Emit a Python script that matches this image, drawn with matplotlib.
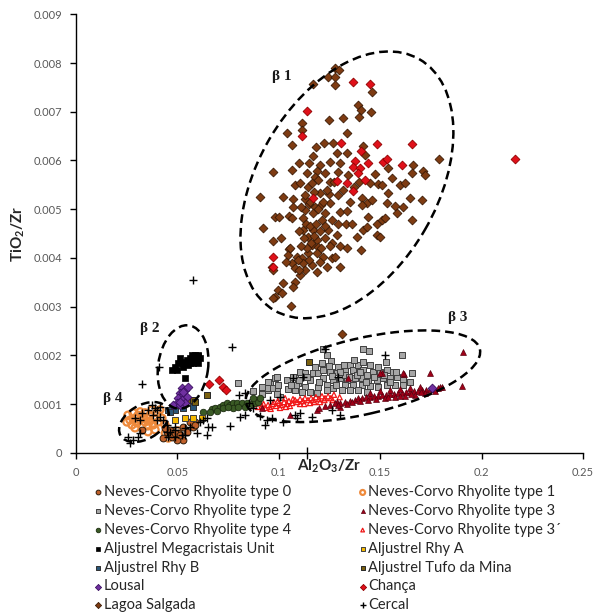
import matplotlib
matplotlib.use("Agg")
import matplotlib.pyplot as plt
from matplotlib.patches import Ellipse
from matplotlib import transforms
from matplotlib.ticker import FormatStrFormatter

plt.rcParams['font.family'] = ['Lato', 'DejaVu Sans']
plt.rcParams['mathtext.default'] = 'regular'

# ---- data ----
lagoa_x = [0.1277, 0.1297, 0.1243, 0.1277, 0.1277, 0.1169, 0.1460, 0.1391, 0.1405, 0.1455,
           0.1395, 0.1248, 0.1317, 0.1114, 0.1114, 0.1040, 0.1336, 0.1065, 0.1183, 0.1223,
           0.1267, 0.1336, 0.1415, 0.1169, 0.1287, 0.1425, 0.1100, 0.1149, 0.1252, 0.1302,
           0.1203, 0.0971, 0.1065, 0.1139, 0.1188, 0.1228, 0.1292, 0.1179, 0.1193, 0.1252,
           0.1474, 0.1538, 0.1657, 0.1662, 0.1711, 0.1721, 0.1790, 0.1598, 0.1622, 0.1450,
           0.1489, 0.1509, 0.1558, 0.1080, 0.1105, 0.1144, 0.1164, 0.1203, 0.1248, 0.1292,
           0.0907, 0.1021, 0.1070, 0.1129, 0.1149, 0.1179, 0.1208, 0.1252, 0.1351, 0.1410,
           0.1435, 0.1460, 0.1534, 0.1538, 0.1573, 0.1612, 0.1647, 0.1706, 0.1070, 0.1129,
           0.1169, 0.1228, 0.1302, 0.1336, 0.1410, 0.0981, 0.1001, 0.1050, 0.1065, 0.1119,
           0.1213, 0.1262, 0.1292, 0.1440, 0.1484, 0.1509, 0.1524, 0.1583, 0.1657, 0.0922,
           0.1119, 0.1169, 0.1243, 0.1287, 0.1415, 0.1435, 0.1484, 0.1499, 0.0971, 0.1011,
           0.1144, 0.1188, 0.1228, 0.1386, 0.1164, 0.1193, 0.1262, 0.1302, 0.1144, 0.1188,
           0.1218, 0.1336, 0.1405, 0.1050, 0.1045, 0.1090, 0.1114, 0.1065, 0.1119, 0.1164,
           0.1203, 0.1262, 0.1277, 0.1036, 0.0966, 0.0971, 0.1080, 0.1129, 0.1188, 0.1238,
           0.1302, 0.1105, 0.1080, 0.1070, 0.1021, 0.0996, 0.1016, 0.0981, 0.0971, 0.1060,
           0.1312, 0.1055,
           0.1130, 0.1155, 0.1175, 0.1110, 0.1135, 0.1155, 0.1185, 0.1100, 0.1125, 0.1160,
           0.1175, 0.1140, 0.1110, 0.1205, 0.1230, 0.1195, 0.1220, 0.1240, 0.1270, 0.1315,
           0.1340, 0.1370, 0.1395, 0.1095, 0.1150, 0.1100, 0.1210, 0.1255, 0.1330, 0.1360]
lagoa_y = [0.00790, 0.00786, 0.00771, 0.00771, 0.00755, 0.00757, 0.00741, 0.00714, 0.00704, 0.00700,
           0.00689, 0.00683, 0.00687, 0.00677, 0.00663, 0.00656, 0.00656, 0.00632, 0.00628, 0.00636,
           0.00636, 0.00615, 0.00630, 0.00609, 0.00615, 0.00611, 0.00595, 0.00595, 0.00597, 0.00595,
           0.00591, 0.00576, 0.00580, 0.00574, 0.00578, 0.00574, 0.00576, 0.00566, 0.00560, 0.00556,
           0.00572, 0.00584, 0.00574, 0.00591, 0.00578, 0.00570, 0.00603, 0.00549, 0.00554, 0.00554,
           0.00552, 0.00549, 0.00564, 0.00549, 0.00554, 0.00545, 0.00554, 0.00533, 0.00531, 0.00529,
           0.00525, 0.00525, 0.00521, 0.00521, 0.00510, 0.00504, 0.00509, 0.00512, 0.00515, 0.00523,
           0.00512, 0.00519, 0.00512, 0.00533, 0.00506, 0.00504, 0.00523, 0.00519, 0.00504, 0.00498,
           0.00492, 0.00492, 0.00494, 0.00496, 0.00509, 0.00484, 0.00484, 0.00486, 0.00482, 0.00482,
           0.00478, 0.00478, 0.00470, 0.00484, 0.00470, 0.00478, 0.00482, 0.00492, 0.00478, 0.00461,
           0.00457, 0.00457, 0.00457, 0.00447, 0.00457, 0.00463, 0.00447, 0.00443, 0.00435, 0.00441,
           0.00443, 0.00437, 0.00441, 0.00443, 0.00426, 0.00422, 0.00430, 0.00424, 0.00410, 0.00410,
           0.00402, 0.00420, 0.00416, 0.00418, 0.00406, 0.00402, 0.00400, 0.00389, 0.00389, 0.00385,
           0.00391, 0.00400, 0.00402, 0.00391, 0.00381, 0.00375, 0.00379, 0.00375, 0.00371, 0.00381,
           0.00381, 0.00365, 0.00350, 0.00340, 0.00348, 0.00334, 0.00328, 0.00320, 0.00318, 0.00301,
           0.00244, 0.00420,
           0.00530, 0.00515, 0.00535, 0.00505, 0.00470, 0.00465, 0.00470, 0.00455, 0.00440, 0.00430,
           0.00445, 0.00420, 0.00425, 0.00455, 0.00465, 0.00500, 0.00515, 0.00540, 0.00555, 0.00540,
           0.00570, 0.00545, 0.00555, 0.00395, 0.00395, 0.00375, 0.00420, 0.00425, 0.00470, 0.00470]

chanca_x = [0.1366, 0.1450, 0.1139, 0.1114, 0.1307, 0.1484, 0.1657, 0.1405, 0.1376, 0.1440,
            0.1514, 0.1534, 0.1607, 0.1366, 0.1400, 0.1391, 0.1425, 0.1336, 0.1287, 0.1366,
            0.0971, 0.0971, 0.1169, 0.2165, 0.0656, 0.0705, 0.0725, 0.0740]
chanca_y = [0.00761, 0.00757, 0.00702, 0.00650, 0.00636, 0.00634, 0.00634, 0.00620, 0.00599, 0.00595,
            0.00597, 0.00603, 0.00591, 0.00587, 0.00584, 0.00574, 0.00560, 0.00554, 0.00558, 0.00537,
            0.00402, 0.00381, 0.00523, 0.00603, 0.00141, 0.00149, 0.00135, 0.00129]

type2_x = [0.0799, 0.0917, 0.0878, 0.0947, 0.0957, 0.0981, 0.0991, 0.1006, 0.1050, 0.1080,
           0.1105, 0.1129, 0.1095, 0.1129, 0.1154, 0.1169, 0.1218, 0.1238, 0.1213, 0.1257,
           0.1193, 0.1218, 0.1193, 0.1238, 0.1252, 0.1287, 0.1326, 0.1351, 0.1366, 0.1391,
           0.1415, 0.1450, 0.1415, 0.1464, 0.1267, 0.1302, 0.1336, 0.1376, 0.1410, 0.1440,
           0.1484, 0.1514, 0.1548, 0.1583, 0.1612, 0.1647, 0.1657, 0.1563, 0.1534, 0.1499,
           0.1415, 0.1445, 0.1529, 0.1607, 0.1326, 0.1366, 0.1410, 0.1450, 0.1489, 0.1534,
           0.1573, 0.1612, 0.1267, 0.1238, 0.1312, 0.1351, 0.1391, 0.1435, 0.1080, 0.1114,
           0.1154, 0.1188, 0.1045, 0.1386, 0.1435, 0.1292, 0.1326, 0.0947, 0.0991, 0.0966,
           0.0991, 0.0873, 0.0917, 0.1040, 0.1070, 0.1085, 0.0996, 0.0942, 0.0917,
           0.1180, 0.1220, 0.1260, 0.1320, 0.1345, 0.1370, 0.1400, 0.1430, 0.1470, 0.1490,
           0.1520, 0.1550, 0.1580, 0.1140, 0.1100, 0.1060, 0.1280, 0.1300, 0.1200, 0.1250]
type2_y = [0.00143, 0.00123, 0.00108, 0.00129, 0.00145, 0.00153, 0.00133, 0.00114, 0.00149, 0.00155,
           0.00166, 0.00164, 0.00143, 0.00135, 0.00149, 0.00164, 0.00213, 0.00201, 0.00184, 0.00188,
           0.00164, 0.00153, 0.00135, 0.00139, 0.00166, 0.00166, 0.00170, 0.00180, 0.00170, 0.00180,
           0.00186, 0.00180, 0.00170, 0.00166, 0.00149, 0.00153, 0.00149, 0.00153, 0.00153, 0.00149,
           0.00149, 0.00153, 0.00153, 0.00155, 0.00149, 0.00145, 0.00164, 0.00166, 0.00170, 0.00166,
           0.00213, 0.00209, 0.00186, 0.00201, 0.00139, 0.00139, 0.00139, 0.00137, 0.00135, 0.00139,
           0.00139, 0.00139, 0.00133, 0.00129, 0.00129, 0.00129, 0.00129, 0.00125, 0.00129, 0.00125,
           0.00125, 0.00123, 0.00131, 0.00160, 0.00160, 0.00176, 0.00160, 0.00145, 0.00155, 0.00133,
           0.00121, 0.00127, 0.00121, 0.00149, 0.00155, 0.00139, 0.00139, 0.00133, 0.00135,
           0.00175, 0.00170, 0.00158, 0.00180, 0.00155, 0.00190, 0.00165, 0.00145, 0.00155, 0.00175,
           0.00160, 0.00145, 0.00165, 0.00155, 0.00150, 0.00140, 0.00140, 0.00165, 0.00145, 0.00178]

type3_x = [0.1908, 0.1903, 0.1746, 0.1617, 0.1509, 0.1341, 0.1287, 0.1188, 0.1055, 0.0917,
           0.1795, 0.1302, 0.1252, 0.1277, 0.1302, 0.1326, 0.1351, 0.1376, 0.1391, 0.1410,
           0.1430, 0.1450, 0.1469, 0.1489, 0.1509, 0.1529, 0.1548, 0.1568, 0.1588, 0.1607,
           0.1627, 0.1647, 0.1667, 0.1686, 0.1706, 0.1726, 0.1746, 0.1765, 0.1785, 0.1805,
           0.1450, 0.1499, 0.1548, 0.1598, 0.1647, 0.1696, 0.1524, 0.1573, 0.1622, 0.1672,
           0.1721, 0.1770, 0.1612, 0.1499, 0.1290, 0.1335, 0.1360, 0.1400, 0.1440, 0.1480,
           0.1540, 0.1600, 0.1650, 0.1700, 0.1200, 0.1230]
type3_y = [0.00207, 0.00137, 0.00164, 0.00162, 0.00164, 0.00153, 0.00104, 0.00088, 0.00077, 0.00092,
           0.00135, 0.00094, 0.00098, 0.00102, 0.00102, 0.00104, 0.00106, 0.00108, 0.00112, 0.00112,
           0.00114, 0.00114, 0.00116, 0.00116, 0.00119, 0.00119, 0.00121, 0.00121, 0.00123, 0.00123,
           0.00125, 0.00125, 0.00127, 0.00127, 0.00129, 0.00129, 0.00131, 0.00131, 0.00133, 0.00135,
           0.00123, 0.00127, 0.00129, 0.00131, 0.00133, 0.00135, 0.00112, 0.00114, 0.00116, 0.00119,
           0.00123, 0.00127, 0.00164, 0.00164, 0.00098, 0.00100, 0.00104, 0.00106, 0.00108, 0.00110,
           0.00114, 0.00117, 0.00120, 0.00124, 0.00092, 0.00095]

type3b_x = [0.0897, 0.0917, 0.0932, 0.0947, 0.0957, 0.0971, 0.0986, 0.1001, 0.1011, 0.1026,
            0.1040, 0.1050, 0.1065, 0.1080, 0.1090, 0.1105, 0.1119, 0.1129, 0.1144, 0.1159,
            0.1169, 0.1183, 0.1198, 0.1213, 0.1228, 0.1243, 0.1257, 0.1272, 0.1105, 0.1055,
            0.1006, 0.1154, 0.1203, 0.0976, 0.1031,
            0.0925, 0.0960, 0.0995, 0.1035, 0.1070, 0.1125, 0.1175, 0.1225, 0.1265, 0.1300]
type3b_y = [0.00094, 0.00096, 0.00092, 0.00098, 0.00094, 0.00100, 0.00096, 0.00102, 0.00098, 0.00104,
            0.00100, 0.00106, 0.00102, 0.00108, 0.00104, 0.00110, 0.00106, 0.00112, 0.00108, 0.00112,
            0.00108, 0.00114, 0.00110, 0.00116, 0.00112, 0.00116, 0.00112, 0.00119, 0.00100, 0.00096,
            0.00092, 0.00102, 0.00104, 0.00104, 0.00112,
            0.00100, 0.00090, 0.00106, 0.00094, 0.00110, 0.00100, 0.00104, 0.00108, 0.00108, 0.00114]

type4_x = [0.0626, 0.0671, 0.0685, 0.0710, 0.0725, 0.0745, 0.0759, 0.0774, 0.0794, 0.0819,
           0.0843, 0.0868, 0.0883, 0.0897, 0.0725, 0.0774, 0.0833, 0.0661, 0.0695, 0.0750,
           0.0799, 0.0873, 0.0907]
type4_y = [0.00084, 0.00090, 0.00092, 0.00094, 0.00098, 0.00102, 0.00098, 0.00102, 0.00102, 0.00102,
           0.00102, 0.00100, 0.00102, 0.00104, 0.00092, 0.00092, 0.00094, 0.00084, 0.00086, 0.00094,
           0.00094, 0.00112, 0.00112]

mega_x = [0.0473, 0.0488, 0.0503, 0.0528, 0.0513, 0.0547, 0.0562, 0.0572, 0.0587, 0.0602,
          0.0577, 0.0552, 0.0528, 0.0597, 0.0602, 0.0611, 0.0537, 0.0523, 0.0498,
          0.0560, 0.0585, 0.0590, 0.0545, 0.0600]
mega_y = [0.00170, 0.00176, 0.00184, 0.00186, 0.00194, 0.00190, 0.00194, 0.00201, 0.00201, 0.00201,
          0.00184, 0.00180, 0.00176, 0.00190, 0.00184, 0.00194, 0.00153, 0.00184, 0.00170,
          0.00185, 0.00195, 0.00188, 0.00182, 0.00198]

lousal_x = [0.0523, 0.0537, 0.0513, 0.0528, 0.0547, 0.0503, 0.0523, 0.0498, 0.0478, 0.0513,
            0.0537, 0.0552, 0.1755, 0.0530, 0.0515]
lousal_y = [0.00133, 0.00129, 0.00123, 0.00119, 0.00114, 0.00112, 0.00108, 0.00102, 0.00098, 0.00098,
            0.00102, 0.00135, 0.00133, 0.00125, 0.00105]

tufo_x = [0.0498, 0.0547, 0.0577, 0.0587, 0.0646, 0.1149]
tufo_y = [0.00098, 0.00108, 0.00108, 0.00104, 0.00119, 0.00186]

rhya_x = [0.0488, 0.0537, 0.0577, 0.0621]
rhya_y = [0.00067, 0.00071, 0.00071, 0.00071]

rhyb_x = [0.0454, 0.0488, 0.0528, 0.0577, 0.0464]
rhyb_y = [0.00088, 0.00088, 0.00092, 0.00094, 0.00084]

type0_x = [0.0325, 0.0449, 0.0473, 0.0503, 0.0528, 0.0429, 0.0498, 0.0464, 0.0488, 0.0513,
           0.0547, 0.0577, 0.0587, 0.0562, 0.0587, 0.0439, 0.0528]
type0_y = [0.00047, 0.00043, 0.00032, 0.00041, 0.00026, 0.00030, 0.00026, 0.00047, 0.00041, 0.00036,
           0.00043, 0.00053, 0.00063, 0.00063, 0.00057, 0.00051, 0.00053]

type1_x = [0.0256, 0.0266, 0.0281, 0.0291, 0.0301, 0.0306, 0.0316, 0.0316, 0.0325, 0.0330,
           0.0340, 0.0340, 0.0350, 0.0355, 0.0365, 0.0365, 0.0375, 0.0380, 0.0390, 0.0399,
           0.0404, 0.0414, 0.0424, 0.0251, 0.0276, 0.0291, 0.0355, 0.0390, 0.0439,
           0.0440, 0.0470, 0.0500, 0.0455]
type1_y = [0.00077, 0.00067, 0.00082, 0.00071, 0.00061, 0.00077, 0.00067, 0.00084, 0.00057, 0.00073,
           0.00063, 0.00082, 0.00071, 0.00055, 0.00077, 0.00065, 0.00088, 0.00057, 0.00071, 0.00082,
           0.00063, 0.00088, 0.00071, 0.00063, 0.00057, 0.00051, 0.00043, 0.00047, 0.00057,
           0.00040, 0.00036, 0.00045, 0.00030]

cercal_x = [0.0577, 0.0769, 0.0325, 0.0409, 0.0804, 0.0759, 0.0646, 0.0671, 0.0523, 0.0488,
            0.0449, 0.0266, 0.0281, 0.0306, 0.0316, 0.0256, 0.0325, 0.0355, 0.0380, 0.0399,
            0.0414, 0.0375, 0.0316, 0.0291, 0.0399, 0.0390, 0.0414, 0.0429, 0.0449, 0.0488,
            0.0537, 0.0562, 0.0537, 0.0488, 0.0464, 0.0611, 0.0597, 0.0646, 0.0454, 0.0833,
            0.0853, 0.0873, 0.0809, 0.0651, 0.0626, 0.0942, 0.0907, 0.0966, 0.1021, 0.1090,
            0.0833, 0.0932, 0.1080, 0.1105, 0.1164, 0.1302, 0.1262, 0.1228, 0.1524, 0.1006,
            0.1070, 0.1119, 0.1292, 0.0957]
cercal_y = [0.00355, 0.00217, 0.00141, 0.00176, 0.00119, 0.00055, 0.00071, 0.00053, 0.00036, 0.00053,
            0.00043, 0.00020, 0.00026, 0.00032, 0.00041, 0.00032, 0.00082, 0.00088, 0.00077, 0.00088,
            0.00073, 0.00098, 0.00067, 0.00071, 0.00067, 0.00092, 0.00094, 0.00067, 0.00057, 0.00047,
            0.00051, 0.00053, 0.00036, 0.00032, 0.00043, 0.00063, 0.00041, 0.00036, 0.00032, 0.00123,
            0.00102, 0.00092, 0.00073, 0.00053, 0.00067, 0.00067, 0.00075, 0.00071, 0.00063, 0.00071,
            0.00077, 0.00057, 0.00077, 0.00082, 0.00073, 0.00077, 0.00088, 0.00213, 0.00201, 0.00114,
            0.00153, 0.00155, 0.00155, 0.00108]

# group outlines: centre (data), semi-axes in pixels, angle, label position
groups = {
    'β 1': ((0.1336, 0.00550), 145, 90, 60, (0.1016, 0.00773)),
    'β 2': ((0.0528, 0.00176), 42, 25, 82, (0.0365, 0.00256)),
    'β 3': ((0.1415, 0.00157), 120, 38, 13, (0.1884, 0.00277)),
    'β 4': ((0.0335, 0.00063), 27, 17, 30, (0.0182, 0.00112)),
}

fig = plt.figure(figsize=(5.97, 6.15), dpi=100)
ax = fig.add_axes([0.1273, 0.2639, 0.8492, 0.7127])

dia = 20
sq = 18
h = {}
h['t2'] = ax.scatter(type2_x, type2_y, s=sq, marker='s', c='#A6A6A6', edgecolors='#404040', linewidths=0.7)
h['t3b'] = ax.scatter(type3b_x, type3b_y, s=14, marker='^', facecolors='none', edgecolors='#F01818', linewidths=0.9)
h['t3'] = ax.scatter(type3_x, type3_y, s=18, marker='^', c='#A00018', edgecolors='#5A0010', linewidths=0.5)
h['t4'] = ax.scatter(type4_x, type4_y, s=22, marker='o', c='#3A5A25', edgecolors='#1C2C10', linewidths=0.6)
h['t1'] = ax.scatter(type1_x, type1_y, s=26, marker='o', facecolors='none', edgecolors='#EE8A3C', linewidths=1.6)
h['t0'] = ax.scatter(type0_x, type0_y, s=24, marker='o', c='#C0602A', edgecolors='#2A1A0A', linewidths=0.7)
h['mega'] = ax.scatter(mega_x, mega_y, s=sq, marker='s', c='black', edgecolors='black', linewidths=0.5)
h['rhya'] = ax.scatter(rhya_x, rhya_y, s=sq, marker='s', c='#F5B800', edgecolors='#404040', linewidths=0.7)
h['rhyb'] = ax.scatter(rhyb_x, rhyb_y, s=sq, marker='s', c='#2A5577', edgecolors='#303030', linewidths=0.7)
h['tufo'] = ax.scatter(tufo_x, tufo_y, s=sq, marker='s', c='#7A6010', edgecolors='#262626', linewidths=0.7)
h['lousal'] = ax.scatter(lousal_x, lousal_y, s=dia, marker='D', c='#7030A0', edgecolors='#3A1060', linewidths=0.6)
h['lagoa'] = ax.scatter(lagoa_x, lagoa_y, s=dia, marker='D', c='#7E3B12', edgecolors='#3A1A06', linewidths=0.6)
h['chanca'] = ax.scatter(chanca_x, chanca_y, s=dia, marker='D', c='#E0101A', edgecolors='#900000', linewidths=0.6)
h['cercal'] = ax.scatter(cercal_x, cercal_y, s=40, marker='+', c='black', linewidths=1.0)

for name, (c, a, b, ang, lab) in groups.items():
    tr = fig.dpi_scale_trans + transforms.ScaledTranslation(c[0], c[1], ax.transData)
    e = Ellipse((0, 0), 2 * a / 100, 2 * b / 100, angle=ang, transform=tr,
                fill=False, ec='black', lw=1.8, ls=(0, (3.5, 2)))
    ax.add_patch(e)
    ax.text(lab[0], lab[1], name, family='Liberation Serif', fontweight='bold',
            fontsize=11, ha='center', va='center', color='#1a1a1a')

ax.set_xlim(0, 0.25)
ax.set_ylim(0, 0.009)
ax.set_xticks([0, 0.05, 0.1, 0.15, 0.2, 0.25])
ax.set_yticks([i * 0.001 for i in range(10)])
ax.xaxis.set_major_formatter(FormatStrFormatter('%g'))
ax.yaxis.set_major_formatter(FormatStrFormatter('%g'))
ax.set_xticks([0.1139], minor=True)
ax.tick_params(which='major', direction='out', length=4, width=1, color='black',
               labelsize=8, labelcolor='#595959', pad=6)
ax.tick_params(which='minor', direction='inout', length=8, width=1, color='black')
for s in ['top', 'right']:
    ax.spines[s].set_visible(False)
for s in ['left', 'bottom']:
    ax.spines[s].set_linewidth(1.0)

ax.text(0.5, -0.032, 'Al$_2$O$_3$/Zr', transform=ax.transAxes, ha='center', va='center',
        fontsize=11, fontweight='bold', color='#262626')
ax.text(-0.114, 0.5, 'TiO$_2$/Zr', transform=ax.transAxes, ha='center', va='center',
        rotation=90, fontsize=11, fontweight='bold', color='#262626')

# legend filled column by column, so the order gives the reference's rows
order = ['t0', 't2', 't4', 'mega', 'rhyb', 'lousal', 'lagoa',
         't1', 't3', 't3b', 'rhya', 'tufo', 'chanca', 'cercal']
labels = {'t0': 'Neves-Corvo Rhyolite type 0', 't1': 'Neves-Corvo Rhyolite type 1',
          't2': 'Neves-Corvo Rhyolite type 2', 't3': 'Neves-Corvo Rhyolite type 3',
          't4': 'Neves-Corvo Rhyolite type 4', 't3b': 'Neves-Corvo Rhyolite type 3´',
          'mega': 'Aljustrel Megacristais Unit', 'rhya': 'Aljustrel Rhy A',
          'rhyb': 'Aljustrel Rhy B', 'tufo': 'Aljustrel Tufo da Mina',
          'lousal': 'Lousal', 'chanca': 'Chança', 'lagoa': 'Lagoa Salgada', 'cercal': 'Cercal'}
fig.legend([h[k] for k in order], [labels[k] for k in order], ncol=2,
           loc='upper left', bbox_to_anchor=(0.145, 0.2228), frameon=False,
           fontsize=10.5, markerscale=0.7, handlelength=0.6, handletextpad=0.1,
           columnspacing=4.6, labelspacing=0.33, borderpad=0, labelcolor='#262626')

fig.savefig('out.png', dpi=100)
